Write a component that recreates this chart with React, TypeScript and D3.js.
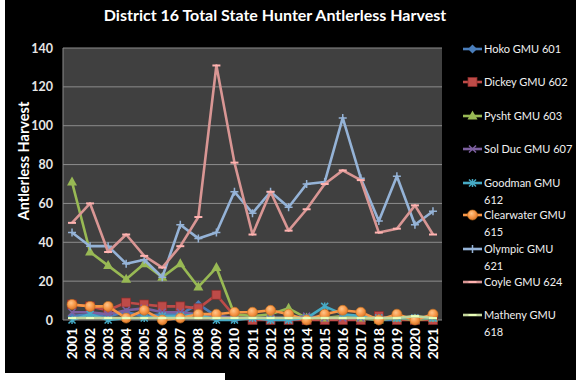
import React from "react";
import * as d3 from "d3";

const years = ["2001","2002","2003","2004","2005","2006","2007","2008","2009","2010","2011","2012","2013","2014","2015","2016","2017","2018","2019","2020","2021"];
const yTicks = [0, 20, 40, 60, 80, 100, 120, 140];

const hoko = [2, 3, 2, 4, 2, 3, 3, 8, 2, 1, 1, 1, 1, 1, 1, 1, 1, 0, 0, 1, 1];
const dickey = [8, 7, 5, 9, 8, 7, 7, 6, 13, 2, 0, 0, 0, 0, 0, 0, 0, 2, 0, 0, 0];
const pysht = [71, 35, 28, 21, 29, 22, 29, 17, 27, 3, 2, 3, 6, 1, 1, 2, 1, 0, 1, 0, 1];
const solDuc = [4, 4, 3, 5, 6, 4, 4, 3, 2, 1, 1, 1, 1, 2, 1, 1, 1, 1, 1, 1, 1];
const goodman = [0, 3, 0, 1, 1, 2, 2, 3, 0, 0, 1, 0, 0, 1, 7, 3, 2, 1, 1, 1, 1];
const clearwater = [8, 7, 7, 1, 5, 0, 1, 3, 3, 4, 4, 5, 3, 0, 3, 5, 4, 0, 3, 0, 3];
const olympic = [45, 38, 38, 29, 31, 22, 49, 42, 45, 66, 55, 66, 58, 70, 71, 104, 73, 51, 74, 49, 56];
const coyle = [50, 60, 35, 44, 33, 27, 38, 53, 131, 81, 44, 66, 46, 57, 70, 77, 72, 45, 47, 59, 44];
const matheny = [1, 1, 1, 1, 1, 1, 1, 1, 1, 1, 1, 1, 1, 1, 1, 1, 1, 1, 1, 2, 1];

const seriesNames = ["Hoko GMU 601", "Dickey GMU 602", "Pysht GMU 603", "Sol Duc GMU 607", "Goodman GMU 612", "Clearwater GMU 615", "Olympic GMU 621", "Coyle GMU 624", "Matheny GMU 618"];
const legendLines = [["Hoko GMU 601"], ["Dickey GMU 602"], ["Pysht GMU 603"], ["Sol Duc GMU 607"], ["Goodman GMU", "612"], ["Clearwater GMU", "615"], ["Olympic GMU", "621"], ["Coyle GMU 624"], ["Matheny GMU", "618"]];
const seriesValues = [hoko, dickey, pysht, solDuc, goodman, clearwater, olympic, coyle, matheny];
const colors = ["#4a7ebb", "#be4b48", "#98b954", "#7d60a0", "#46aac5", "#f79646", "#95b3d7", "#d99694", "#c3d69b"];
const markers = ["diamond", "square", "triangle", "x", "asterisk", "circle", "plus", "dash", "dash"];

const W = 576, H = 380;
const left = 63, right = 442, top = 48, bottom = 320;
const FONT = "Lato, 'Open Sans', sans-serif";

function Marker({ type, x, y, color }: { type: string; x: number; y: number; color: string }) {
  switch (type) {
    case "diamond":
      return <path d={`M${x},${y - 4.5}L${x + 4.5},${y}L${x},${y + 4.5}L${x - 4.5},${y}Z`} fill={color} />;
    case "square":
      return <rect x={x - 4.5} y={y - 4.5} width={9} height={9} fill={color} stroke="#8a2c2a" strokeWidth={0.7} />;
    case "triangle":
      return <path d={`M${x},${y - 5.5}L${x + 5},${y + 3.5}L${x - 5},${y + 3.5}Z`} fill={color} />;
    case "x":
      return <path d={`M${x - 3.5},${y - 3.5}L${x + 3.5},${y + 3.5}M${x - 3.5},${y + 3.5}L${x + 3.5},${y - 3.5}`} stroke={color} strokeWidth={1.5} />;
    case "asterisk":
      return <path d={`M${x - 3.5},${y - 3.5}L${x + 3.5},${y + 3.5}M${x - 3.5},${y + 3.5}L${x + 3.5},${y - 3.5}M${x},${y - 4}L${x},${y + 4}`} stroke={color} strokeWidth={1.5} />;
    case "circle":
      return <circle cx={x} cy={y} r={5} fill="url(#orangeGrad)" stroke="#c8701e" strokeWidth={0.6} />;
    case "plus":
      return <path d={`M${x - 4},${y}L${x + 4},${y}M${x},${y - 4}L${x},${y + 4}`} stroke={color} strokeWidth={1.5} />;
    case "dash":
      return <path d={`M${x - 4},${y}L${x + 4},${y}`} stroke={d3.color(color)!.brighter(0.5).toString()} strokeWidth={2} />;
    default:
      return null;
  }
}

export default function App() {
  const x = d3.scalePoint<string>().domain(years).range([left, right]).padding(0.5);
  const y = d3.scaleLinear().domain([0, 140]).range([bottom, top]);
  const line = d3.line<number>().x((_, i) => x(years[i])!).y((d) => y(d));

  return (
    <svg width={W} height={H} style={{ position: "absolute", left: 0, top: 0, display: "block" }} fontFamily={FONT}>
      <defs>
        <radialGradient id="orangeGrad" cx="40%" cy="35%" r="65%">
          <stop offset="0%" stopColor="#ffc58a" />
          <stop offset="60%" stopColor="#f79646" />
          <stop offset="100%" stopColor="#d9782c" />
        </radialGradient>
      </defs>
      <rect x={0} y={0} width={W} height={H} fill="#000" />
      <rect x={0} y={0} width={5} height={H} fill="#fff" />
      <rect x={0} y={373} width={225} height={7} fill="#fff" />
      <text x={275} y={21} textAnchor="middle" fill="#fff" fontSize={16} fontWeight="bold">District 16 Total State Hunter Antlerless Harvest</text>
      <rect x={left} y={top} width={right - left} height={bottom - top} fill="#404040" />
      {yTicks.map((t) => (
        <g key={t}>
          {t > 0 && <line x1={left} x2={right} y1={y(t)} y2={y(t)} stroke="#8c8c8c" strokeWidth={1} />}
          <text x={53} y={y(t) + 4.5} textAnchor="end" fill="#e6e6e6" fontSize={12.5} fontWeight="bold">{t}</text>
        </g>
      ))}
      <line x1={left} x2={left} y1={top} y2={bottom} stroke="#8c8c8c" />
      <line x1={left} x2={right} y1={bottom} y2={bottom} stroke="#8c8c8c" />
      <text transform={`translate(29,161) rotate(-90)`} textAnchor="middle" fill="#fff" fontSize={14.5} fontWeight="bold">Antlerless Harvest</text>
      {years.map((yr) => (
        <text key={yr} transform={`translate(${x(yr)! + 5},328) rotate(-90)`} textAnchor="end" fill="#fff" fontSize={13.5} fontWeight="bold">{yr}</text>
      ))}
      {seriesValues.map((vals, si) => (
        <g key={seriesNames[si]}>
          <path d={line(vals)!} fill="none" stroke={colors[si]} strokeWidth={2.6} strokeLinejoin="round" />
          {vals.map((v, i) => (
            <Marker key={i} type={markers[si]} x={x(years[i])!} y={y(v)} color={colors[si]} />
          ))}
        </g>
      ))}
      {legendLines.map((lines, i) => {
        const ys = [49, 82, 116, 149, 183, 215, 249, 282, 315][i];
        return (
          <g key={i}>
            <line x1={463} x2={482} y1={ys} y2={ys} stroke={colors[i]} strokeWidth={2.6} />
            <Marker type={markers[i]} x={472.5} y={ys} color={colors[i]} />
            {lines.map((l, k) => (
              <text key={k} x={484} y={ys + 4 + k * 16.5} fill="#f0f0f0" fontSize={11}>{l}</text>
            ))}
          </g>
        );
      })}
    </svg>
  );
}
